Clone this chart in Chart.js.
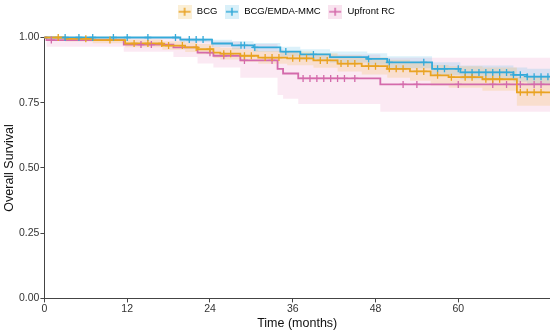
<!DOCTYPE html>
<html>
<head>
<meta charset="utf-8">
<script src="https://cdn.jsdelivr.net/npm/chart.js@4.4.0/dist/chart.umd.min.js"></script>
<style>
html, body { margin: 0; padding: 0; background: #fff; }
#wrap { width: 550px; height: 333px; }
</style>
</head>
<body>
<div id="wrap"><canvas id="km" width="550" height="333"></canvas></div>
<script>
var group_names = ['BCG', 'BCG/EMDA-MMC', 'Upfront RC'];
var x_ticks = [0, 12, 24, 36, 48, 60];
var y_ticks = [0, 0.25, 0.5, 0.75, 1];
var end_month = 73.3;

// Kaplan-Meier steps: event time (months) -> survival after it, with 95% band
var bcg_time  = [0, 3, 7, 11.7, 17.1, 20.4, 22.2, 24.5, 25.5, 28.4, 31, 35.2, 39, 42.5, 46, 49.7, 53, 56, 58.6, 63.5, 68.5];
var bcg_surv  = [1, 0.995, 0.99, 0.977, 0.969, 0.962, 0.955, 0.942, 0.938, 0.93, 0.923, 0.92, 0.912, 0.9, 0.89, 0.88, 0.87, 0.855, 0.848, 0.84, 0.79];
var bcg_lower = [1, 0.985, 0.978, 0.963, 0.953, 0.944, 0.936, 0.921, 0.916, 0.907, 0.899, 0.894, 0.884, 0.87, 0.858, 0.846, 0.834, 0.816, 0.807, 0.796, 0.738];
var bcg_upper = [1, 1, 1, 0.992, 0.986, 0.981, 0.975, 0.964, 0.961, 0.954, 0.948, 0.946, 0.94, 0.931, 0.923, 0.915, 0.907, 0.895, 0.89, 0.885, 0.85];
var bcg_censor = [2, 6, 9.5, 13, 15, 17, 18, 20, 22, 24, 26, 27, 29, 30, 32, 33, 34, 36, 37, 38, 40, 41, 43, 44, 45, 47, 48, 50, 51, 52, 54, 55, 57, 59, 61, 62, 64, 65, 66, 69, 70, 71, 72];

var emda_time  = [0, 19.7, 24.3, 27.2, 30.3, 34.2, 37.1, 41.4, 46.8, 49.7, 56.2, 60.3, 68, 70];
var emda_surv  = [1, 0.992, 0.977, 0.97, 0.962, 0.946, 0.935, 0.925, 0.918, 0.905, 0.88, 0.866, 0.857, 0.85];
var emda_lower = [1, 0.982, 0.964, 0.955, 0.945, 0.927, 0.915, 0.904, 0.896, 0.882, 0.855, 0.84, 0.83, 0.82];
var emda_upper = [1, 1, 0.991, 0.986, 0.979, 0.965, 0.955, 0.946, 0.94, 0.928, 0.905, 0.893, 0.885, 0.88];
var emda_censor = [3, 5, 7, 10, 12, 15, 19, 21, 22, 23, 28.5, 29, 30.5, 35, 39, 47, 50, 55, 57, 58, 60, 61, 62, 63, 64, 65, 66, 67, 68, 69, 70, 71, 72, 73];

var rc_time  = [0, 0.3, 11.5, 18.7, 22.2, 24.5, 28.4, 33.8, 34.6, 36.8, 48.7];
var rc_surv  = [1, 0.99, 0.973, 0.962, 0.942, 0.93, 0.912, 0.88, 0.862, 0.843, 0.82];
var rc_lower = [1, 0.965, 0.945, 0.925, 0.9, 0.885, 0.846, 0.78, 0.765, 0.745, 0.715];
var rc_upper = [1, 1, 1, 1, 0.99, 0.985, 0.975, 0.955, 0.945, 0.935, 0.922];
var rc_censor = [1, 14, 15.5, 24, 26, 29, 33, 37.5, 38.5, 39.5, 40.5, 41.5, 42.5, 43.5, 45, 52, 54, 60, 65, 67, 69, 71, 72];

var line_colors = ['#E9A322', '#35AAD9', '#D46AAB'];
var band_colors = ['rgba(240,170,40,0.18)', 'rgba(60,175,225,0.18)', 'rgba(230,120,180,0.16)'];
var legend_bg = ['#FBEFD6', '#D9F0F9', '#F9E3EF'];

function steps(times, values) {
    var pts = [];
    for (var i = 0; i < times.length; i++) pts.push({x: times[i], y: values[i]});
    pts.push({x: end_month, y: values[values.length - 1]});
    return pts;
}

function censor_points(times, values, censor) {
    return censor.map(function (t) {
        var k = 0;
        for (var i = 0; i < times.length; i++) if (times[i] <= t) k = i;
        return {x: t, y: values[k]};
    });
}

function legend_mark(idx) {
    var c = document.createElement('canvas');
    c.width = 14; c.height = 14;
    var g = c.getContext('2d');
    g.fillStyle = legend_bg[idx];
    g.fillRect(0, 0, 14, 14);
    g.strokeStyle = line_colors[idx];
    g.lineWidth = 1.5;
    g.beginPath();
    g.moveTo(1, 7); g.lineTo(13, 7);
    g.moveTo(7, 3); g.lineTo(7, 11);
    g.stroke();
    return c;
}

var groups = [
    [bcg_time, bcg_surv, bcg_lower, bcg_upper, bcg_censor],
    [emda_time, emda_surv, emda_lower, emda_upper, emda_censor],
    [rc_time, rc_surv, rc_lower, rc_upper, rc_censor]
];

var datasets = [];
groups.forEach(function (g, i) {
    datasets.push({
        label: group_names[i],
        data: steps(g[0], g[1]),
        borderColor: line_colors[i],
        borderWidth: 1.8,
        stepped: true,
        pointRadius: 0,
        fill: false,
        clip: false,
        order: 1
    });
});
groups.forEach(function (g, i) {
    datasets.push({
        label: group_names[i] + ' censored',
        type: 'scatter',
        data: censor_points(g[0], g[1], g[4]),
        pointStyle: 'cross',
        pointRadius: 3.5,
        pointBorderWidth: 1.3,
        pointBorderColor: line_colors[i],
        borderColor: line_colors[i],
        showLine: false,
        clip: false,
        order: 0
    });
});
groups.forEach(function (g, i) {
    datasets.push({
        label: group_names[i] + ' lower',
        data: steps(g[0], g[2]),
        borderWidth: 0,
        borderColor: 'rgba(0,0,0,0)',
        stepped: true,
        pointRadius: 0,
        fill: false,
        order: 5
    });
    datasets.push({
        label: group_names[i] + ' upper',
        data: steps(g[0], g[3]),
        borderWidth: 0,
        borderColor: 'rgba(0,0,0,0)',
        backgroundColor: band_colors[i],
        stepped: true,
        pointRadius: 0,
        fill: '-1',
        order: 5
    });
});

// extra room under the legend, and centre it a little to the right like the original
var legend_gap = {
    id: 'legend_gap',
    beforeInit: function (chart) {
        var fit = chart.legend.fit;
        chart.legend.fit = function () {
            fit.bind(chart.legend)();
            this.height += 11;
        };
    },
    afterLayout: function (chart) {
        chart.legend.left += 10;
        chart.legend.right += 10;
    }
};

var axis_font = {family: 'Liberation Sans', size: 10.5};
var title_font = {family: 'Liberation Sans', size: 12.5};

new Chart(document.getElementById('km').getContext('2d'), {
    type: 'line',
    data: {datasets: datasets},
    plugins: [legend_gap],
    options: {
        responsive: false,
        animation: false,
        layout: {autoPadding: false, padding: {left: 2, right: 0, top: 0, bottom: 2}},
        plugins: {
            tooltip: {enabled: false},
            legend: {
                position: 'top',
                labels: {
                    usePointStyle: true,
                    pointStyleWidth: 15,
                    padding: 7,
                    color: '#333',
                    font: {family: 'Liberation Sans', size: 9.5},
                    generateLabels: function (chart) {
                        return group_names.map(function (n, i) {
                            return {text: n, pointStyle: legend_mark(i), fillStyle: line_colors[i],
                                    strokeStyle: line_colors[i], lineWidth: 0, hidden: false, datasetIndex: i};
                        });
                    }
                }
            }
        },
        scales: {
            x: {
                type: 'linear',
                min: 0,
                max: end_month,
                afterBuildTicks: function (axis) { axis.ticks = x_ticks.map(function (v) { return {value: v}; }); },
                afterFit: function (axis) { axis.paddingRight = 0; },
                ticks: {color: '#333', font: axis_font, padding: 0, maxRotation: 0},
                grid: {display: true, drawOnChartArea: false, drawTicks: true, tickLength: 4, color: '#444'},
                border: {color: '#444', width: 1},
                title: {display: true, text: 'Time (months)', color: '#111', font: title_font, padding: {top: 1, bottom: 0}}
            },
            y: {
                type: 'linear',
                min: 0,
                max: 1,
                afterBuildTicks: function (axis) { axis.ticks = y_ticks.map(function (v) { return {value: v}; }); },
                ticks: {color: '#333', font: axis_font, padding: 1, callback: function (v) { return v.toFixed(2); }},
                grid: {display: true, drawOnChartArea: false, drawTicks: true, tickLength: 4, color: '#444'},
                border: {color: '#444', width: 1},
                title: {display: true, text: 'Overall Survival', color: '#111', font: title_font, padding: {top: 0, bottom: 1}}
            }
        }
    }
});
</script>
</body>
</html>
